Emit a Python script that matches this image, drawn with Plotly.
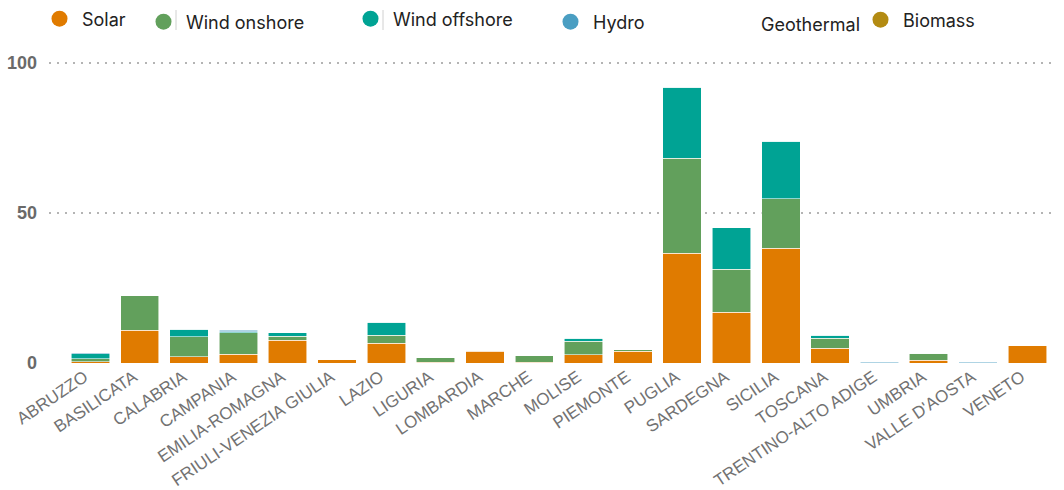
import plotly.graph_objects as go

regions = ["ABRUZZO", "BASILICATA", "CALABRIA", "CAMPANIA", "EMILIA-ROMAGNA",
           "FRIULI-VENEZIA GIULIA", "LAZIO", "LIGURIA", "LOMBARDIA", "MARCHE",
           "MOLISE", "PIEMONTE", "PUGLIA", "SARDEGNA", "SICILIA", "TOSCANA",
           "TRENTINO-ALTO ADIGE", "UMBRIA", "VALLE D'AOSTA", "VENETO"]

solar = [0.5, 11.0, 2.1, 2.9, 7.6, 1.3, 6.6, 0.3, 4.0, 0.3,
         2.7, 4.0, 36.6, 16.9, 38.2, 5.0, 0.0, 1.0, 0.0, 5.9]
wind_onshore = [1.0, 11.4, 6.7, 7.2, 1.3, 0.0, 2.7, 1.4, 0.3, 2.1,
                4.6, 0.5, 31.7, 14.3, 16.5, 3.2, 0.0, 2.2, 0.0, 0.0]
wind_offshore = [1.6, 0.0, 2.4, 0.3, 1.2, 0.0, 4.3, 0.0, 0.0, 0.0,
                 1.0, 0.0, 23.6, 13.9, 19.3, 1.1, 0.0, 0.0, 0.0, 0.0]
hydro = [0.4, 0.0, 0.0, 0.5, 0.0, 0.0, 0.0, 0.0, 0.0, 0.0,
         0.0, 0.0, 0.0, 0.0, 0.0, 0.0, 0.3, 0.0, 0.3, 0.0]
geothermal = [0.0] * 20
biomass = [0.0] * 20

y_ticks = [0, 50, 100]

series = [
    ("Solar", solar, "#E07B00"),
    ("Wind onshore", wind_onshore, "#62A05C"),
    ("Wind offshore", wind_offshore, "#00A394"),
    ("Hydro", hydro, "#4A9EC2"),
    ("Geothermal", geothermal, "#FFFFFF"),
    ("Biomass", biomass, "#B38B12"),
]

fig = go.Figure()
for name, vals, col in series:
    lw = 0.8 if any(v > 0 for v in vals) else 0
    fig.add_trace(go.Bar(x=regions, y=vals, name=name,
                         marker=dict(color=col, line=dict(color="rgba(255,255,255,0.7)", width=lw)),
                         showlegend=False))

# legend entries (circle markers), each in its own legend for placement
leg_pos = [  # marker center x px, center y px
    (57, 19), (161, 22), (368, 19), (568, 22), (736, 24), (878, 20)
]
for i, ((name, vals, col), (mx, my)) in enumerate(zip(series, leg_pos)):
    lname = "legend" if i == 0 else f"legend{i+1}"
    fig.add_trace(go.Scatter(x=[regions[0]], y=[None], mode="markers", name=name,
                             marker=dict(color=col, size=17, symbol="circle"),
                             legend=lname, showlegend=True, hoverinfo="skip"))

layout_legends = {}
for i, (mx, my) in enumerate(leg_pos):
    lname = "legend" if i == 0 else f"legend{i+1}"
    layout_legends[lname] = dict(
        x=(mx - 20) / 1064, y=1 - my / 490, xref="container", yref="container",
        xanchor="left", yanchor="middle", bgcolor="rgba(0,0,0,0)",
        font=dict(family="Inter", size=18, color="#222222"),
        itemwidth=35, itemclick=False,
    )

fig.update_layout(
    barmode="stack",
    bargap=0.22,
    width=1064, height=490,
    margin=dict(l=49, r=12, t=51, b=127, autoexpand=False),
    paper_bgcolor="white", plot_bgcolor="white",
    xaxis=dict(type="category", range=[-0.84, 19.5], tickangle=-34, showgrid=False, showline=False,
               zeroline=False, ticks="", ticklabelshift=-6,
               tickfont=dict(family="Liberation Sans", size=17, color="#727272")),
    yaxis=dict(range=[0, 104], tickvals=y_ticks, ticktext=[str(v) for v in y_ticks],
               showgrid=True, gridcolor="#B4B4B4", griddash="2px,6px", gridwidth=2,
               zeroline=False, showline=False, ticks="", ticklabelstandoff=11,
               tickfont=dict(family="Liberation Sans", size=18, color="#6A6A6A", weight="bold")),
    **layout_legends,
)

# thin separators near legend markers
for sx in (176, 383):
    fig.add_shape(type="line", xref="paper", yref="paper",
                  x0=(sx - 49) / 1003, x1=(sx - 49) / 1003,
                  y0=1 + (51 - 10) / 312, y1=1 + (51 - 30) / 312,
                  line=dict(color="#D0D0D0", width=1))

fig.write_html("out.html")
